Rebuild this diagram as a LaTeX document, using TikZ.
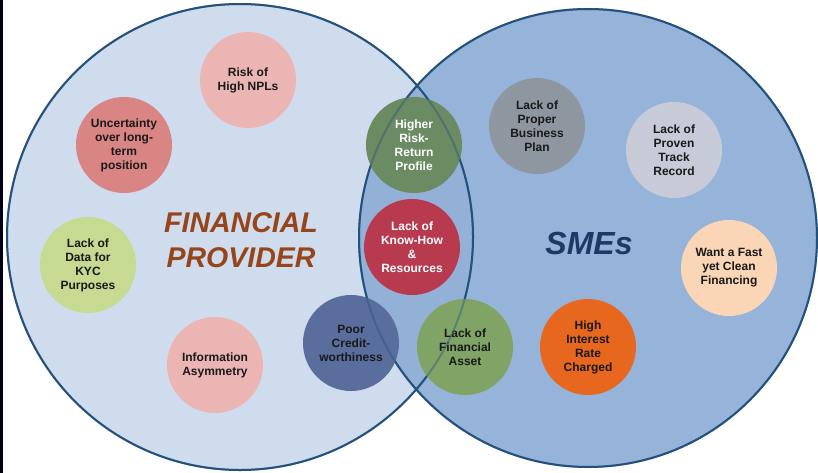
\documentclass[tikz,border=0pt]{standalone}
\usepackage{fontspec}
\setmainfont{Liberation Sans}
\usetikzlibrary{positioning}

\definecolor{leftfill}{HTML}{CFDCEE}
\definecolor{rightfill}{HTML}{8EADD6}
\definecolor{rimblue}{HTML}{24507C}
\definecolor{brownish}{HTML}{96441A}
\definecolor{navytxt}{HTML}{1D3A66}
\definecolor{pinklight}{HTML}{EBB5B3}
\definecolor{rosy}{HTML}{D98584}
\definecolor{limegreen}{HTML}{C6DA91}
\definecolor{slateblue}{HTML}{5A6E9E}
\definecolor{sagegreen}{HTML}{6B8B63}
\definecolor{crimson}{HTML}{B83A4F}
\definecolor{leafgreen}{HTML}{7FA466}
\definecolor{midgray}{HTML}{8E969F}
\definecolor{palegray}{HTML}{C6CBD7}
\definecolor{peach}{HTML}{FBD6B6}
\definecolor{orangey}{HTML}{E8671F}

\begin{document}
\begin{tikzpicture}[x=1pt, y=-1pt,
    bigset/.style={draw=rimblue, line width=2pt},
    issue/.style={circle, minimum size=96pt, inner sep=0pt, align=center,
                  font=\bfseries\fontsize{12}{14}\selectfont, text=black!90},
    settitle/.style={font=\bfseries\itshape, align=center}]

                  \useasboundingbox (0,0) rectangle (818,473);
                  \fill[white] (0,0) rectangle (818,473);
                  \fill[black!85!blue!60!black] (0,0) rectangle (3,473);

                  % the two sets
                  \fill[leftfill] (240,237) circle (233);
                  \fill[rightfill, fill opacity=0.92] (588,238) circle (229);
                  \draw[bigset] (240,237) circle (233);
                  \draw[bigset] (588,238) circle (229);

                  \node[settitle, text=brownish, font=\bfseries\itshape\fontsize{28.5}{35}\selectfont] (fp) at (241,240) {FINANCIAL\\PROVIDER};
                  \node[settitle, text=navytxt, font=\bfseries\itshape\fontsize{32}{36}\selectfont] (sme) at (589,243) {SMEs};

                  % financial provider side
                  \node[issue, fill=pinklight] (npl) at (248,80) {Risk of\\High NPLs};
                  \node[issue, fill=rosy] (unc) at (124,145) {Uncertainty\\over long-\\term\\position};
                  \node[issue, fill=limegreen] (kyc) at (88,265) {Lack of\\Data for\\KYC\\Purposes};
                  \node[issue, fill=pinklight] (asym) at (215,365) {Information\\Asymmetry};
                  \node[issue, fill=slateblue] (poor) at (351,343) {Poor\\Credit-\\worthiness};

                  % overlap
                  \node[issue, fill=sagegreen, text=white] (risk) at (414,145) {Higher\\Risk-\\Return\\Profile};
                  \node[issue, fill=crimson, text=white] (know) at (412,247) {Lack of\\Know-How\\\&\\Resources};
                  \node[issue, fill=leafgreen] (asset) at (465,347) {Lack of\\Financial\\Asset};

                  % SME side
                  \node[issue, fill=midgray] (plan) at (537,126) {Lack of\\Proper\\Business\\Plan};
                  \node[issue, fill=palegray] (track) at (674,150) {Lack of\\Proven\\Track\\Record};
                  \node[issue, fill=peach] (fast) at (729,268) {Want a Fast\\yet Clean\\Financing};
                  \node[issue, fill=orangey] (rate) at (588,347) {High\\Interest\\Rate\\Charged};

                  % rims seen through the small circles
                  \draw[bigset, draw opacity=0.4] (240,237) circle (233);
                  \draw[bigset, draw opacity=0.4] (588,238) circle (229);

                \end{tikzpicture}
\end{document}
